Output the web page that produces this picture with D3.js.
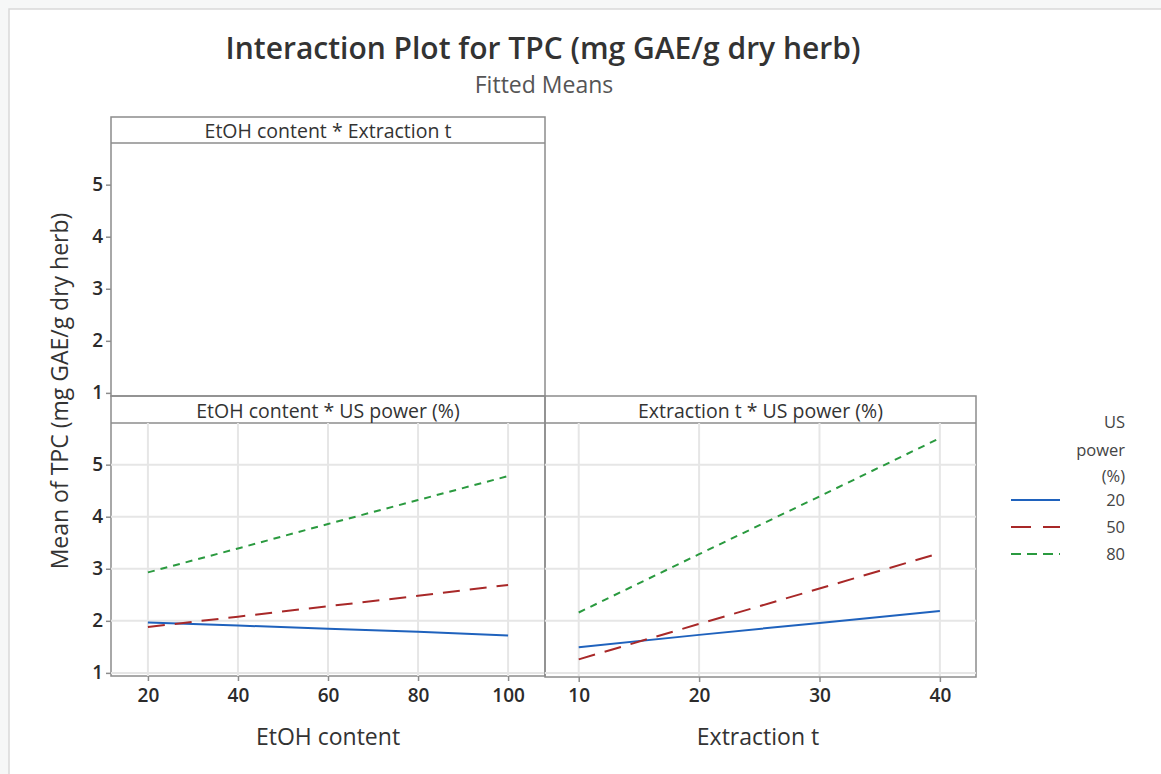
<!DOCTYPE html>
<html>
<head>
<meta charset="utf-8">
<script src="https://cdn.jsdelivr.net/npm/d3@7"></script>
<style>
  body { margin: 0; background: #fff; }
  text { font-family: "Open Sans", "Noto Sans", sans-serif; }
</style>
</head>
<body>
<script>
// factor levels
var etohLevels = [20, 40, 60, 80, 100];
var timeLevels = [10, 20, 30, 40];
var usPower = [20, 50, 80];

// fitted means, EtOH content * US power
var etohUs20 = [1.97, 1.91, 1.85, 1.79, 1.72];
var etohUs50 = [1.88, 2.08, 2.28, 2.48, 2.69];
var etohUs80 = [2.93, 3.39, 3.86, 4.32, 4.78];

// fitted means, Extraction t * US power
var timeUs20 = [1.49, 1.73, 1.96, 2.19];
var timeUs50 = [1.26, 1.94, 2.62, 3.30];
var timeUs80 = [2.16, 3.28, 4.39, 5.51];

var yTicks = [1, 2, 3, 4, 5];
var styles = [
  {color: "#1f62bd", dash: null},
  {color: "#a82828", dash: "17,10"},
  {color: "#2a9a3f", dash: "7,6"}
];

var W = 1161, H = 774;
var svg = d3.select("body").append("svg")
  .attr("width", W).attr("height", H);

svg.append("rect").attr("width", W).attr("height", H).attr("fill", "#f6f7f7");
svg.append("rect").attr("x", 9).attr("y", 9).attr("width", W).attr("height", H)
  .attr("fill", "#fff").attr("stroke", "#d9d9d9").attr("stroke-width", 1.5);

// titles
svg.append("text").attr("x", 543).attr("y", 59).attr("text-anchor", "middle")
  .attr("font-size", 30).attr("font-weight", 600).attr("fill", "#333")
  .text("Interaction Plot for TPC (mg GAE/g dry herb)");
svg.append("text").attr("x", 544).attr("y", 93).attr("text-anchor", "middle")
  .attr("font-size", 23).attr("fill", "#555").text("Fitted Means");

// scales
var xEtoh = d3.scaleLinear().domain([11.8, 108.2]).range([111, 545]);
var xTime = d3.scaleLinear().domain([7.2, 43.0]).range([545, 976]);
var yTop = d3.scaleLinear().domain([0.94, 5.8]).range([396, 143]);
var yBot = d3.scaleLinear().domain([0.94, 5.8]).range([676, 423]);

function panel(x0, x1, top, headerH, bottom, title) {
  var g = svg.append("g");
  g.append("rect").attr("x", x0).attr("y", top).attr("width", x1 - x0)
    .attr("height", bottom - top).attr("fill", "none")
    .attr("stroke", "#8c8c8c").attr("stroke-width", 1.5);
  g.append("line").attr("x1", x0).attr("x2", x1)
    .attr("y1", top + headerH).attr("y2", top + headerH)
    .attr("stroke", "#8c8c8c").attr("stroke-width", 1.5);
  g.append("text").attr("x", (x0 + x1) / 2).attr("y", top + headerH - 5)
    .attr("text-anchor", "middle").attr("font-size", 19.5).attr("fill", "#333")
    .text(title);
  return g;
}

function grid(g, x, y, xs) {
  g.selectAll(".gx").data(xs).enter().append("line")
    .attr("x1", d => x(d)).attr("x2", d => x(d))
    .attr("y1", y.range()[1]).attr("y2", y.range()[0])
    .attr("stroke", "#e6e6e6").attr("stroke-width", 2);
  g.selectAll(".gy").data(yTicks).enter().append("line")
    .attr("x1", x.range()[0]).attr("x2", x.range()[1])
    .attr("y1", d => y(d)).attr("y2", d => y(d))
    .attr("stroke", "#e6e6e6").attr("stroke-width", 2);
}

function series(g, x, y, levels, list) {
  var line = d3.line().x((d, i) => x(levels[i])).y(d => y(d));
  list.forEach(function(vals, k) {
    g.append("path").datum(vals).attr("d", line).attr("fill", "none")
      .attr("stroke", styles[k].color).attr("stroke-width", 2)
      .attr("stroke-dasharray", styles[k].dash);
  });
}

function styleAxis(a) {
  a.select(".domain").remove();
  a.selectAll(".tick line").attr("stroke", "#8c8c8c").attr("stroke-width", 1.5);
  a.selectAll(".tick text").attr("font-size", 19).attr("font-weight", 600).attr("fill", "#2b2b2b")
    .attr("font-family", "'Open Sans', 'Noto Sans', sans-serif");
}

// panels
var p1 = panel(111, 545, 117, 26, 396, "EtOH content * Extraction t");
var p2 = panel(111, 545, 396, 27, 676, "EtOH content * US power (%)");
var p3 = panel(545, 976, 396, 27, 677, "Extraction t * US power (%)");

grid(p2, xEtoh, yBot, etohLevels);
grid(p3, xTime, yBot, timeLevels);
series(p2, xEtoh, yBot, etohLevels, [etohUs20, etohUs50, etohUs80]);
series(p3, xTime, yBot, timeLevels, [timeUs20, timeUs50, timeUs80]);

// axes
var fmt = d3.format("d");
styleAxis(svg.append("g").attr("transform", "translate(111,0)")
  .call(d3.axisLeft(yTop).tickValues(yTicks).tickFormat(fmt).tickSize(5).tickPadding(3)));
styleAxis(svg.append("g").attr("transform", "translate(111,0)")
  .call(d3.axisLeft(yBot).tickValues(yTicks).tickFormat(fmt).tickSize(5).tickPadding(3)));
styleAxis(svg.append("g").attr("transform", "translate(0,676)")
  .call(d3.axisBottom(xEtoh).tickValues(etohLevels).tickFormat(fmt).tickSize(5).tickPadding(8)));
styleAxis(svg.append("g").attr("transform", "translate(0,677)")
  .call(d3.axisBottom(xTime).tickValues(timeLevels).tickFormat(fmt).tickSize(5).tickPadding(7)));

// axis titles
svg.append("text").attr("transform", "translate(68,391) rotate(-90)")
  .attr("text-anchor", "middle").attr("font-size", 23).attr("fill", "#333")
  .text("Mean of TPC (mg GAE/g dry herb)");
svg.append("text").attr("x", 328).attr("y", 745).attr("text-anchor", "middle")
  .attr("font-size", 23).attr("fill", "#333").text("EtOH content");
svg.append("text").attr("x", 758).attr("y", 745).attr("text-anchor", "middle")
  .attr("font-size", 23).attr("fill", "#333").text("Extraction t");

// legend
var leg = svg.append("g");
["US", "power", "(%)"].forEach(function(t, i) {
  leg.append("text").attr("x", 1125).attr("y", [428, 456, 482][i])
    .attr("text-anchor", "end").attr("font-size", 16.5).attr("fill", "#444").text(t);
});
var rowY = [500, 527, 554];
usPower.forEach(function(v, i) {
  leg.append("line").attr("x1", 1011).attr("x2", 1060)
    .attr("y1", rowY[i]).attr("y2", rowY[i])
    .attr("stroke", styles[i].color).attr("stroke-width", 2)
    .attr("stroke-dasharray", i === 1 ? "20,12" : (i === 2 ? "10,6" : null));
  leg.append("text").attr("x", 1125).attr("y", rowY[i] + 6)
    .attr("text-anchor", "end").attr("font-size", 16.5).attr("fill", "#444").text(v);
});
</script>
</body>
</html>
